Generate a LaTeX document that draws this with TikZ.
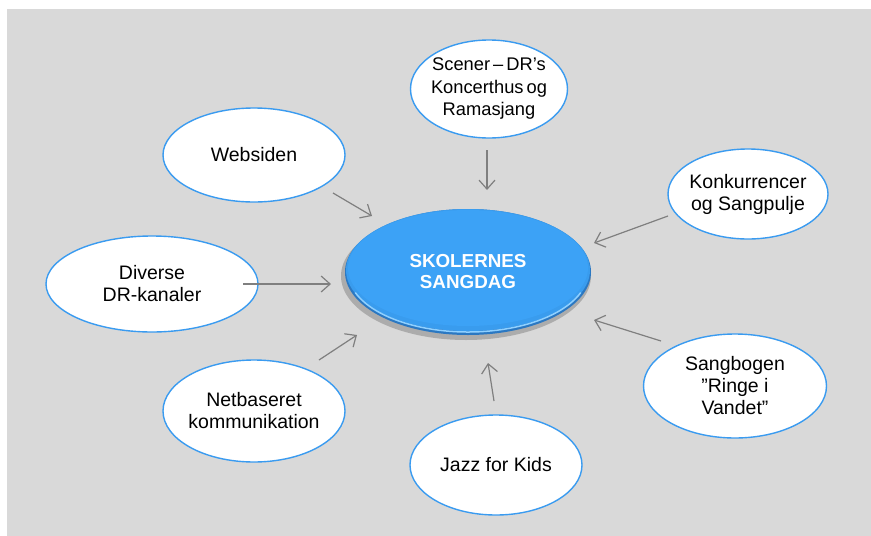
\documentclass[tikz,border=0pt]{standalone}
\usepackage{fontspec}
\setmainfont{Liberation Sans}
\usetikzlibrary{shapes.geometric,arrows.meta}
\definecolor{bggrey}{HTML}{D9D9D9}
\definecolor{rimblue}{HTML}{3A9BF0}
\definecolor{hubblue}{HTML}{3CA2F6}
\definecolor{hubdark}{HTML}{2B78C2}
\definecolor{hubtop}{HTML}{8FD0FF}
\definecolor{arrowgrey}{HTML}{7F7F7F}
\tikzset{
  leaf/.style={ellipse, draw=rimblue, line width=1.4pt, fill=white, inner sep=-40pt,
    align=center, font=\fontsize{19.5}{22}\selectfont},
  hub/.style={ellipse, inner sep=-40pt, align=center, text=white,
    font=\bfseries\fontsize{18.8}{21}\selectfont},
  feed/.style={draw=arrowgrey, line width=1.2pt, -{Straight Barb[length=9pt,width=16pt,line width=1.2pt]}},
}
\begin{document}
\begin{tikzpicture}[x=1pt,y=-1pt]
\useasboundingbox (0,0) rectangle (871,536);
\fill[bggrey] (7,9) rectangle (871,536);
% hub
\fill[gray!65] (466,276) ellipse [x radius=125, y radius=64];
\fill[hubdark] (468,272) ellipse [x radius=123, y radius=63];
\fill[hubblue!85!hubdark] (468,270) ellipse [x radius=122, y radius=61];
\fill[hubblue] (468,268) ellipse [x radius=120, y radius=58];
\draw[hubtop, line width=1.5pt] (468,272) ++(160:120 and 60) arc [start angle=160, end angle=20, x radius=120, y radius=60];
\node[hub, minimum width=246pt, minimum height=126pt] (hub) at (468,272) {SKOLERNES\\SANGDAG};
% leaves
\node[leaf, minimum width=157pt, minimum height=98pt, font=\fontsize{18.3}{22.5}\selectfont] (scener) at (489,89) {Scener\,–\,DR’s\\Koncerthus\,og\\Ramasjang};
\node[leaf, minimum width=182pt, minimum height=94pt] (web) at (254,155) {Websiden};
\node[leaf, minimum width=160pt, minimum height=90pt] (konk) at (748,194) {Konkurrencer\\og Sangpulje};
\node[leaf, minimum width=212pt, minimum height=96pt] (diverse) at (152,284) {Diverse\\DR-kanaler};
\node[leaf, minimum width=183pt, minimum height=104pt] (sangbog) at (735,386) {Sangbogen\\”Ringe i\\Vandet”};
\node[leaf, minimum width=182pt, minimum height=102pt] (netbas) at (254,411) {Netbaseret\\kommunikation};
\node[leaf, minimum width=172pt, minimum height=100pt] (jazz) at (496,465) {Jazz for Kids};
% arrow end points
\coordinate (s1) at (487,150); \coordinate (s2) at (487,190);
\coordinate (w1) at (333,193); \coordinate (w2) at (372,216);
\coordinate (k1) at (668,216); \coordinate (k2) at (594,243);
\coordinate (d1) at (243,284); \coordinate (d2) at (331,284);
\coordinate (g1) at (661,341); \coordinate (g2) at (594,320);
\coordinate (n1) at (319,360); \coordinate (n2) at (357,335);
\coordinate (j1) at (494,401); \coordinate (j2) at (488,363);
\draw[feed] (s1) -- (s2);
\draw[feed] (w1) -- (w2);
\draw[feed] (k1) -- (k2);
\draw[feed] (d1) -- (d2);
\draw[feed] (g1) -- (g2);
\draw[feed] (n1) -- (n2);
\draw[feed] (j1) -- (j2);
\end{tikzpicture}
\end{document}
